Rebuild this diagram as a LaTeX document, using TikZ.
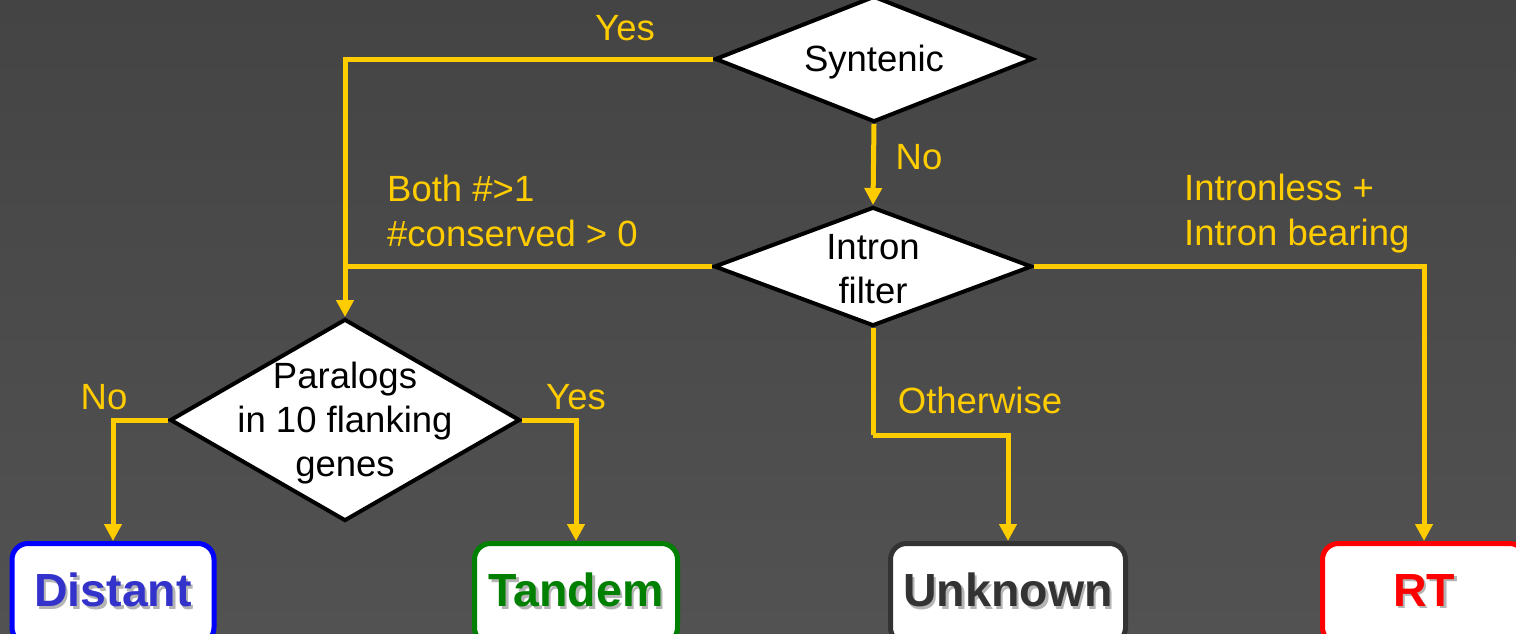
\documentclass[tikz,border=0pt]{standalone}
\usepackage{fontspec}
\setmainfont{Liberation Sans}
\usetikzlibrary{shapes.geometric,arrows.meta,calc}
\definecolor{flowyellow}{HTML}{FFCC00}
\definecolor{bgtop}{HTML}{444444}
\definecolor{bgbottom}{HTML}{525252}
\definecolor{distantblue}{HTML}{3333CC}
\definecolor{tandemgreen}{HTML}{008000}
\definecolor{unknowngray}{HTML}{333333}
\definecolor{shadowgray}{HTML}{B4B4B4}
\tikzset{
  decision/.style={diamond, draw=black, line width=4pt, fill=white, inner sep=0pt},
  decisiontext/.style={label={[align=center, inner sep=0pt, yshift=-3pt,
    font=\fontsize{36.5}{44}\selectfont]center:{#1}}},
  flow/.style={draw=flowyellow, line width=5pt, -{Triangle[width=17pt,length=17pt]}},
  link/.style={draw=flowyellow, line width=5pt},
  cond/.style={text=flowyellow, font=\fontsize{36.5}{45}\selectfont, inner sep=0pt, align=left},
  outbox/.style={rectangle, rounded corners=16pt, fill=white, line width=5pt,
    minimum height=100pt, inner sep=0pt},
  outlabel/.style={font=\fontsize{46.5}{50}\selectfont\bfseries, inner sep=0pt},
  outshadow/.style={outlabel, text=shadowgray},
}
\begin{document}
\begin{tikzpicture}[x=1pt, y=-1pt]
  % canvas and background
  \clip (0,0) rectangle (1516,633);
  \shade[top color=bgtop, bottom color=bgbottom] (0,0) rectangle (1516,633);

  % decisions
  \node[decision, minimum width=318pt, minimum height=126pt,
    decisiontext={Syntenic}] (syn) at (874,59) {};
  \node[decision, minimum width=318pt, minimum height=119pt,
    decisiontext={Intron\\filter}] (intron) at (873,266.5) {};
  \node[decision, minimum width=350pt, minimum height=202pt,
    decisiontext={Paralogs\\in 10 flanking\\genes}] (para) at (345,420) {};

  % outcome boxes
  \node[outbox, draw=blue, minimum width=202pt] (distant) at (113,593.5) {};
  \node[outbox, draw=tandemgreen, minimum width=203pt] (tandem) at (576,593.5) {};
  \node[outbox, draw=unknowngray, minimum width=235pt] (unknown) at (1008,593.5) {};
  \node[outbox, draw=red, minimum width=203pt] (rt) at (1424,593.5) {};

  % outcome labels with their drop shadows
  \node[outshadow] (distantsh) at ($(distant.center)+(2.5,-1)$) {Distant};
  \node[outlabel, text=distantblue] (distanttx) at ($(distant.center)+(0,-3.5)$) {Distant};
  \node[outshadow] (tandemsh) at ($(tandem.center)+(2.5,-1)$) {Tandem};
  \node[outlabel, text=tandemgreen] (tandemtx) at ($(tandem.center)+(0,-3.5)$) {Tandem};
  \node[outshadow] (unknownsh) at ($(unknown.center)+(2.5,-1)$) {Unknown};
  \node[outlabel, text=unknowngray] (unknowntx) at ($(unknown.center)+(0,-3.5)$) {Unknown};
  \node[outshadow] (rtsh) at ($(rt.center)+(2.5,-1)$) {RT};
  \node[outlabel, text=red] (rttx) at ($(rt.center)+(0,-3.5)$) {RT};

  % connectors
  \coordinate (joint) at (intron.west -| para.north);
  \coordinate (ubend) at (873,435);
  \draw[flow] (syn.west) -| (para.north);
  \draw[link] (intron.west) -- (joint);
  \draw[flow] (syn.south) -- (intron.north);
  \draw[flow] (intron.east) -| (rt.north);
  \draw[link] (intron.south) -- (ubend);
  \draw[flow] (ubend) -| (unknown.north);
  \draw[flow] (para.west) -| (distant.north);
  \draw[flow] (para.east) -| (tandem.north);

  % branch conditions
  \node[cond] (yestop) at (625,28) {Yes};
  \node[cond] (notop) at (919,157) {No};
  \node[cond, anchor=west] (both) at (387,211) {Both \#>1\\\#conserved > 0};
  \node[cond, anchor=west] (introns) at (1184,214) {Intronless +\\Intron bearing};
  \node[cond] (otherwise) at (980,400) {Otherwise};
  \node[cond] (noleft) at (104,397) {No};
  \node[cond] (yesright) at (576,397) {Yes};
\end{tikzpicture}
\end{document}
